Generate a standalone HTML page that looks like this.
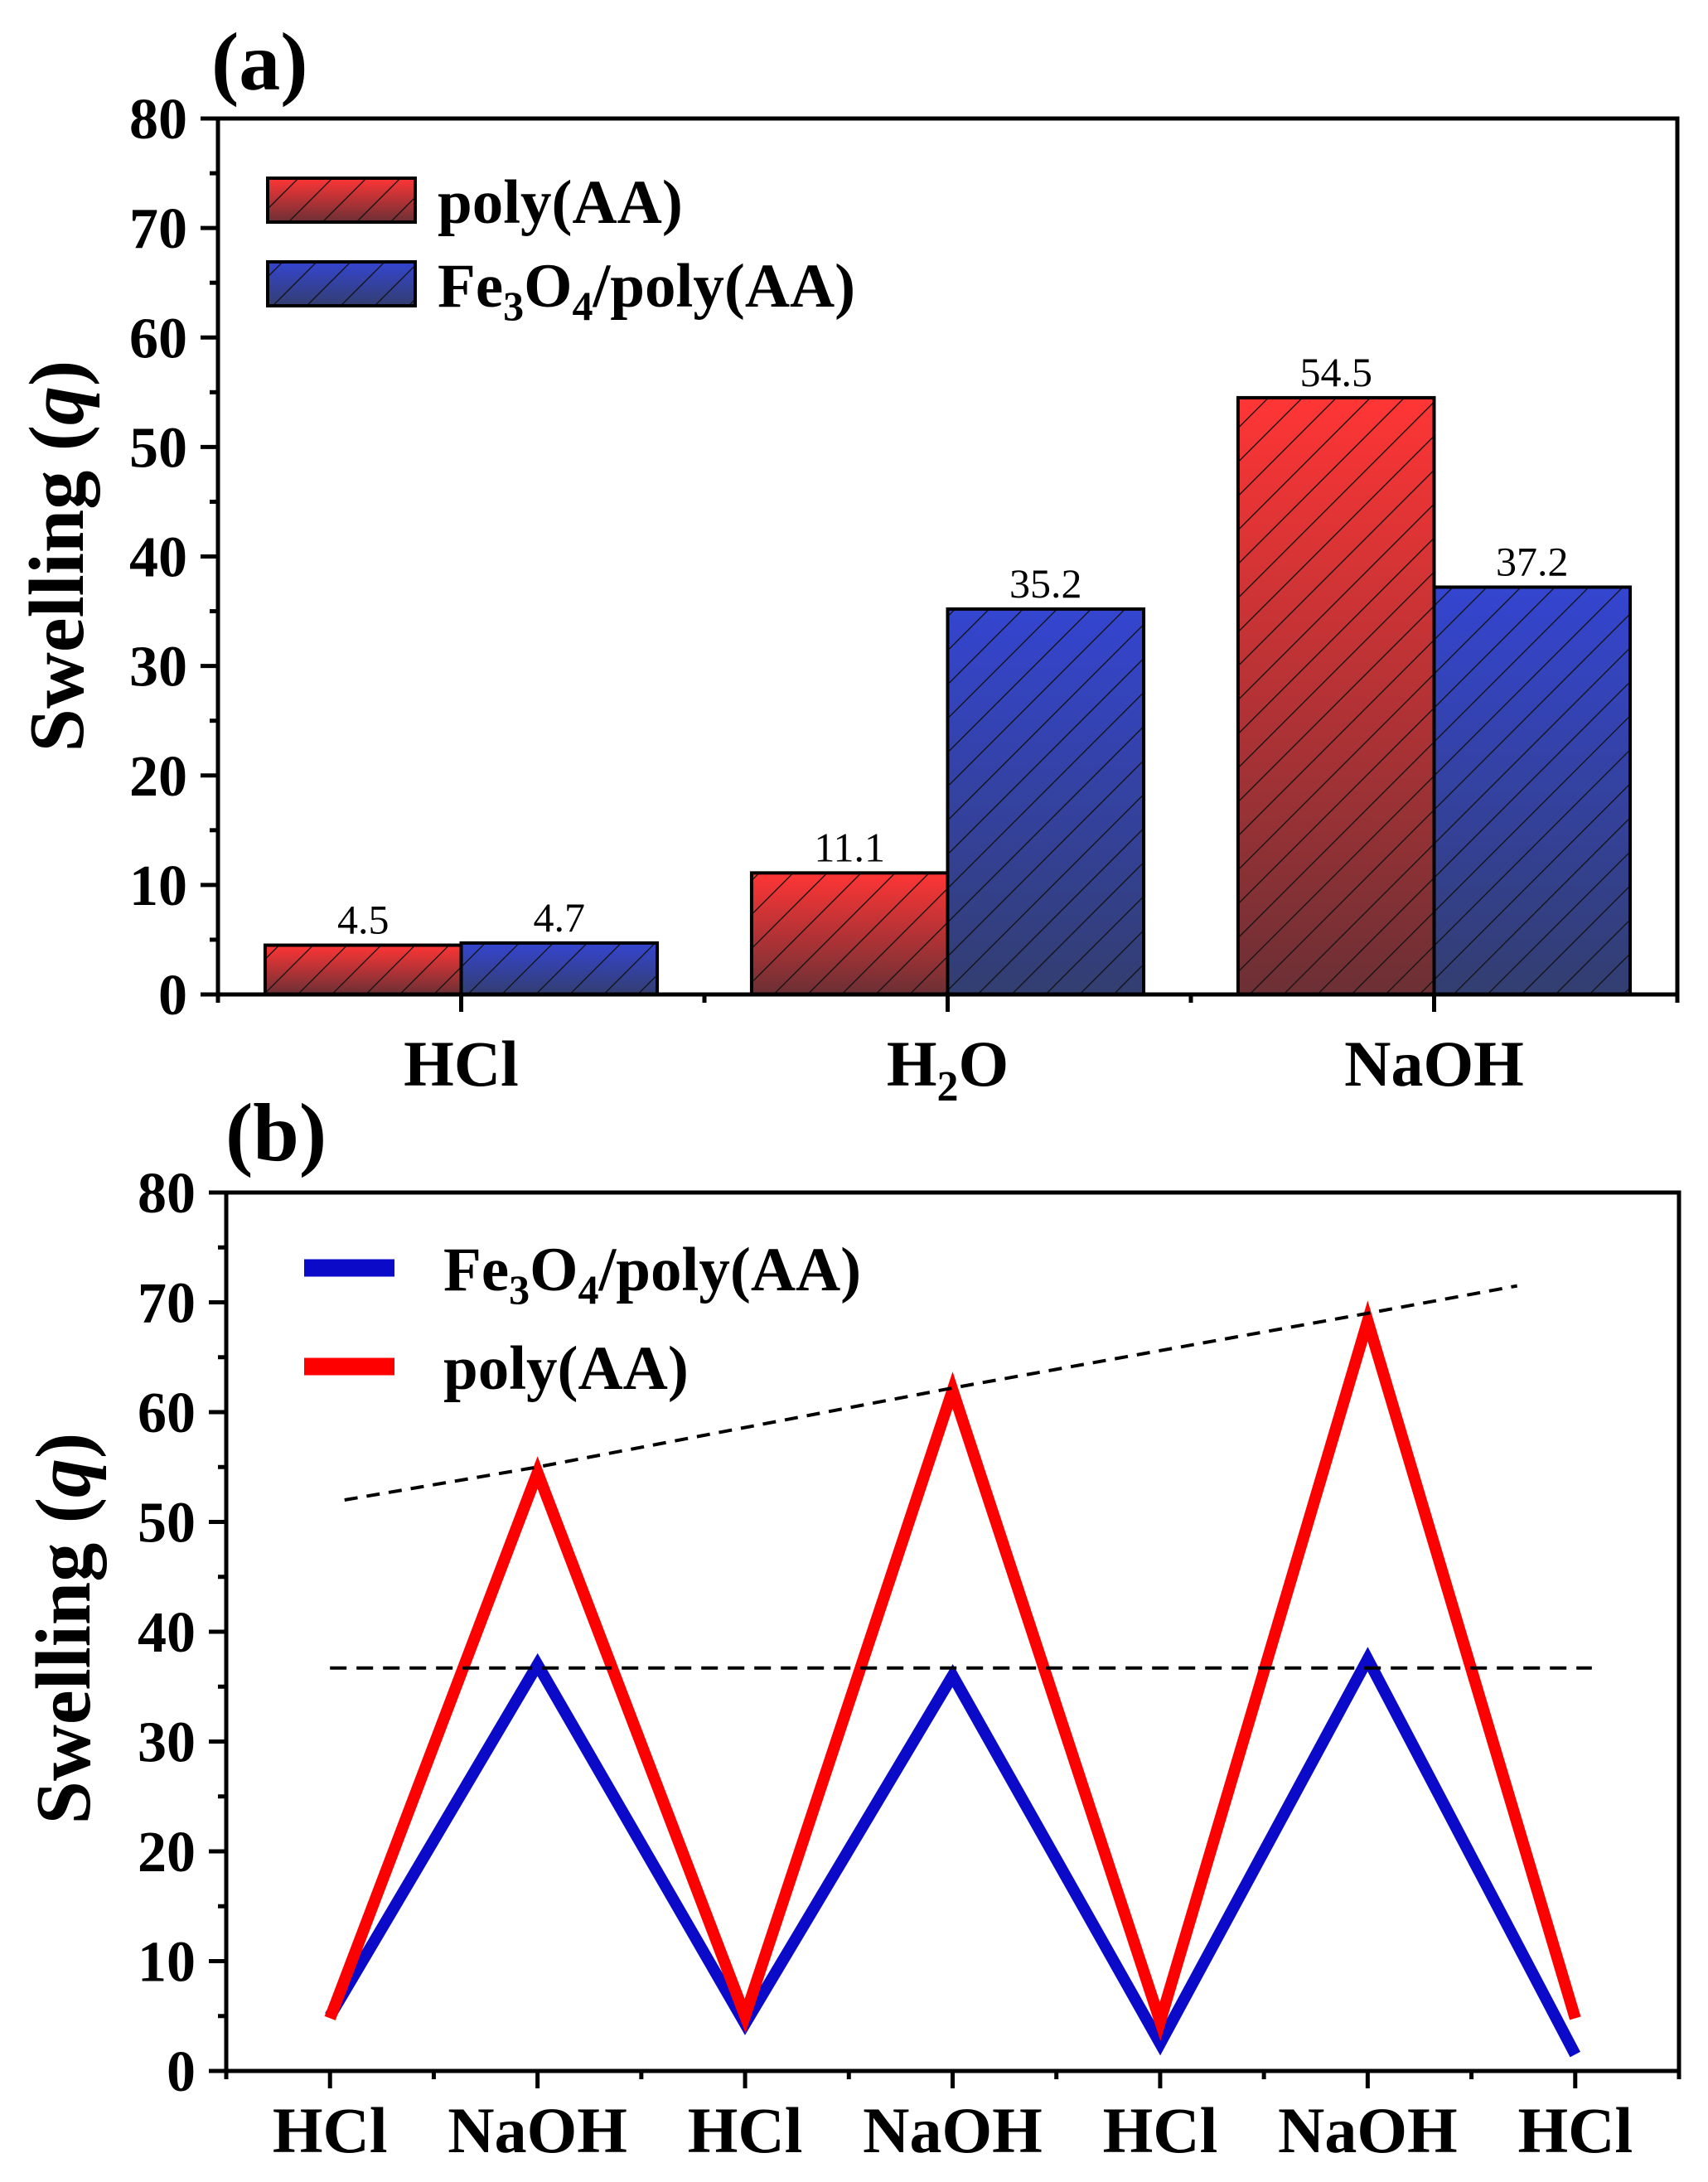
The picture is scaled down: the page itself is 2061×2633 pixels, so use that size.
<!DOCTYPE html>
<html><head><meta charset="utf-8"><style>
html,body{margin:0;padding:0;background:#fff;}
svg{display:block;font-family:"Liberation Serif","Times New Roman",serif;}
</style></head><body>
<svg id="chart" width="2061" height="2633" viewBox="0 0 2061 2633" xmlns="http://www.w3.org/2000/svg">
<defs>
<linearGradient id="gradRed" x1="0" y1="0" x2="0" y2="1"><stop offset="0" stop-color="#ff3535"/><stop offset="1" stop-color="#6b3035"/></linearGradient>
<linearGradient id="gradBlue" x1="0" y1="0" x2="0" y2="1"><stop offset="0" stop-color="#3445d0"/><stop offset="1" stop-color="#333e70"/></linearGradient>
<pattern id="hatch" patternUnits="userSpaceOnUse" width="29" height="29" patternTransform="rotate(45)"><line x1="0" y1="0" x2="0" y2="29" stroke="#111" stroke-width="2.6"/></pattern>
</defs>
<g id="panelA"></g>
<g id="panelB"></g>
</svg>
<script>
// ---------- Panel (a) data ----------
const catsA = ["HCl", "H2O", "NaOH"];
const polyAA = [4.5, 11.1, 54.5];
const fePolyAA = [4.7, 35.2, 37.2];
const yTicksA = [0, 10, 20, 30, 40, 50, 60, 70, 80];
// ---------- Panel (b) data ----------
const catsB = ["HCl", "NaOH", "HCl", "NaOH", "HCl", "NaOH", "HCl"];
const polyB = [4.8, 54.5, 5.0, 62.0, 4.5, 68.3, 4.8];
const feB = [5.0, 37.0, 4.3, 36.0, 2.5, 37.5, 1.5];
const yTicksB = [0, 10, 20, 30, 40, 50, 60, 70, 80];
const trendUpperX = [1.07, 2.0, 4.0, 6.0, 6.72];
const trendUpperY = [52.0, 55.0, 62.2, 69.0, 71.5];
const trendFlatX = [1.0, 7.08];
const trendFlatY = [36.7, 36.7];

const NS = "http://www.w3.org/2000/svg";
function mk(tag, attrs, parent){const e=document.createElementNS(NS,tag);for(const k in attrs)e.setAttribute(k,attrs[k]);parent.appendChild(e);return e;}

// ================= Panel A =================
const gA = document.getElementById('panelA');
const A = {l:263, r:2024, t:143, b:1200};
const xA = v => A.l + (v-0.5)/3*(A.r-A.l);
const yA = v => A.b - v/80*(A.b-A.t);
const spacingA = (A.r-A.l)/3;
const barW = spacingA*0.403;

catsA.forEach((c,i)=>{
  const cx = xA(i+1);
  [[polyAA,'gradRed','bar-poly-aa-'],[fePolyAA,'gradBlue','bar-fe3o4-poly-aa-']].forEach((s,j)=>{
    const v = s[0][i];
    const x0 = j===0 ? cx-barW : cx;
    const r = mk('rect',{x:x0,y:yA(v),width:barW,height:yA(0)-yA(v),fill:'url(#'+s[1]+')',stroke:'none'},gA);
    
    
    const h = mk('rect',{x:x0,y:yA(v),width:barW,height:yA(0)-yA(v),fill:'url(#hatch)',stroke:'#000','stroke-width':4},gA);
    
    
    const t = mk('text',{x:x0+barW/2,y:yA(v)-14,'font-size':50,'text-anchor':'middle',fill:'#000'},gA);
    t.textContent = v.toFixed(1);
    
    
  });
});

function frame(g,P){
  const f = mk('rect',{x:P.l,y:P.t,width:P.r-P.l,height:P.b-P.t,fill:'none',stroke:'#000','stroke-width':5},g);
  
  
}
frame(gA,A);

function yAxis(g,P,yf,ticks){
  ticks.forEach(v=>{
    mk('line',{x1:P.l-21,x2:P.l,y1:yf(v),y2:yf(v),stroke:'#000','stroke-width':5},g);
    const t = mk('text',{x:P.l-37,y:yf(v)+24,'font-size':70,'font-weight':'bold','text-anchor':'end',fill:'#000'},g);
    t.textContent = v;
    
    
    if(v<80) mk('line',{x1:P.l-10,x2:P.l,y1:yf(v+5),y2:yf(v+5),stroke:'#000','stroke-width':5},g);
  });
}
yAxis(gA,A,yA,yTicksA);
for(let k=0;k<=6;k++){
  const v=0.5+k*0.5;
  const major = (k%2===1);
  mk('line',{x1:xA(v),x2:xA(v),y1:A.b,y2:A.b+(major?21:10),stroke:'#000','stroke-width':5},gA);
}
catsA.forEach((c,i)=>{
  const t = mk('text',{x:xA(i+1),y:1310,'font-size':78,'font-weight':'bold','text-anchor':'middle',fill:'#000'},gA);
  if(c==='H2O'){ t.innerHTML='H<tspan font-size="52" dy="18">2</tspan><tspan dy="-18">O</tspan>'; }
  else t.textContent=c;
  
  
});
let yt = mk('text',{x:0,y:0,'font-size':94,'font-weight':'bold','text-anchor':'middle',fill:'#000',transform:'translate(100,671) rotate(-90)'},gA);
yt.innerHTML='Swelling (<tspan font-style="italic">q</tspan>)';


let pa = mk('text',{x:255,y:108,'font-size':100,'font-weight':'bold',fill:'#000'},gA);
pa.textContent='(a)';


[['gradRed',215,'poly(AA)'],['gradBlue',316,'Fe3O4']].forEach((L,i)=>{
  mk('rect',{x:323,y:L[1],width:178,height:53,fill:'url(#'+L[0]+')'},gA);
  const b = mk('rect',{x:323,y:L[1],width:178,height:53,fill:'url(#hatch)',stroke:'#000','stroke-width':4},gA);
  
  
  const t = mk('text',{x:528,y:L[1]+54,'font-size':75,'font-weight':'bold',fill:'#000'},gA);
  if(i===0) t.textContent='poly(AA)';
  else t.innerHTML='Fe<tspan font-size="50" dy="16">3</tspan><tspan dy="-16">O</tspan><tspan font-size="50" dy="16">4</tspan><tspan dy="-16">/poly(AA)</tspan>';
  
  
});

// ================= Panel B =================
const gB = document.getElementById('panelB');
const B = {l:273, r:2026, t:1439, b:2499};
const xB = v => B.l + (v-0.5)/7*(B.r-B.l);
const yB = v => B.b - v/80*(B.b-B.t);

function polyline(xs,ys,attrs,name){
  const pts = xs.map((x,i)=>xB(x)+','+yB(ys[i])).join(' ');
  const p = mk('polyline',Object.assign({points:pts,fill:'none'},attrs),gB);
  
  
}
const idx = catsB.map((c,i)=>i+1);
polyline(idx,feB,{stroke:'#0a0ac8','stroke-width':14,'stroke-linejoin':'miter'},'line-fe3o4-poly-aa');
polyline(idx,polyB,{stroke:'#ff0000','stroke-width':14,'stroke-linejoin':'miter'},'line-poly-aa');
(function(){
  let d='';
  trendUpperX.forEach((x,i)=>{d+=(i?' L':'M')+xB(x)+' '+yB(trendUpperY[i]);});
  const p=mk('path',{d:d,fill:'none',stroke:'#000','stroke-width':4,'stroke-dasharray':'16 11'},gB);
  
  
})();
polyline(trendFlatX,trendFlatY,{stroke:'#000','stroke-width':4,'stroke-dasharray':'20 12'},'trend-line-flat');

frame(gB,B);
yAxis(gB,B,yB,yTicksB);
for(let k=0;k<=14;k++){
  const v=0.5+k*0.5;
  const major=(k%2===1);
  mk('line',{x1:xB(v),x2:xB(v),y1:B.b,y2:B.b+(major?21:10),stroke:'#000','stroke-width':5},gB);
}
catsB.forEach((c,i)=>{
  const t=mk('text',{x:xB(i+1),y:2597,'font-size':78,'font-weight':'bold','text-anchor':'middle',fill:'#000'},gB);
  t.textContent=c;
  
  
});
yt = mk('text',{x:0,y:0,'font-size':94,'font-weight':'bold','text-anchor':'middle',fill:'#000',transform:'translate(108,1965) rotate(-90)'},gB);
yt.innerHTML='Swelling (<tspan font-style="italic">q</tspan>)';


let pb = mk('text',{x:272,y:1400,'font-size':100,'font-weight':'bold',fill:'#000'},gB);
pb.textContent='(b)';


[['#0a0ac8',1530,1],['#ff0000',1649,0]].forEach(L=>{
  const ln=mk('line',{x1:367,x2:476,y1:L[1],y2:L[1],stroke:L[0],'stroke-width':21},gB);
  
  
  const t=mk('text',{x:535,y:L[1]+27,'font-size':75,'font-weight':'bold',fill:'#000'},gB);
  if(L[2]) t.innerHTML='Fe<tspan font-size="50" dy="16">3</tspan><tspan dy="-16">O</tspan><tspan font-size="50" dy="16">4</tspan><tspan dy="-16">/poly(AA)</tspan>';
  else t.textContent='poly(AA)';
  
  
});
</script>
</body></html>
